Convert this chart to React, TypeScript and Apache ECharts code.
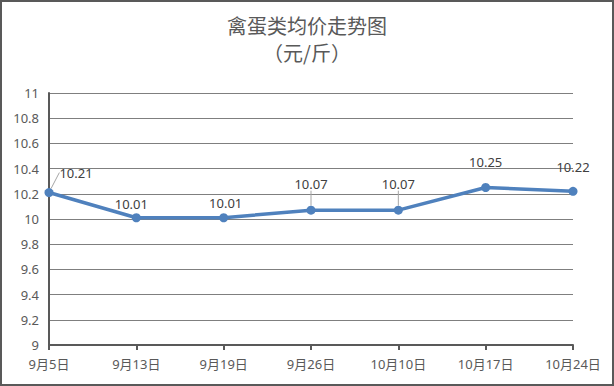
import React, { useEffect, useRef } from "react";
import * as echarts from "echarts";

const titleMain = "禽蛋类均价走势图";
const titleUnit = "（元/斤）";
const categories = ["9月5日", "9月13日", "9月19日", "9月26日", "10月10日", "10月17日", "10月24日"];
const prices = [10.21, 10.01, 10.01, 10.07, 10.07, 10.25, 10.22];
const labelShift: [number, number][] = [[27, -4], [-5, 2], [2, 1], [0, -10], [0, -10], [0, -10], [0, -8]];
const showLeader = [true, false, false, true, true, false, false];

export default function App() {
  const ref = useRef<HTMLDivElement>(null);
  useEffect(() => {
    if (!ref.current) return;
    const chart = echarts.init(ref.current, undefined, { renderer: "svg" });
    const font = '"Noto Sans", "Noto Sans CJK SC", sans-serif';
    const titleStyle = { fontSize: 20, fontWeight: "normal", color: "#595959", fontFamily: '"Noto Sans CJK SC", sans-serif' };
    chart.setOption({
      animation: false,
      backgroundColor: "#ffffff",
      title: [
        { text: titleMain, left: "center", top: 15, padding: 0, textStyle: titleStyle },
        { text: titleUnit, left: "center", top: 42, padding: 0, textStyle: titleStyle },
      ],
      graphic: [
        {
          type: "rect",
          shape: { x: 1, y: 1, width: 612, height: 384 },
          style: { fill: "none", stroke: "#595959", lineWidth: 2 },
          silent: true,
        },
      ],
      grid: { left: 49, right: 41, top: 93, bottom: 41 },
      xAxis: {
        type: "category",
        data: categories,
        boundaryGap: false,
        axisLine: { lineStyle: { color: "#595959", width: 2 } },
        axisTick: { show: true, length: 5, lineStyle: { color: "#595959", width: 2 } },
        axisLabel: { color: "#595959", fontSize: 13, fontFamily: font, margin: 12, interval: 0 },
      },
      yAxis: {
        type: "value",
        min: 9,
        max: 11,
        interval: 0.2,
        axisLine: { show: true, lineStyle: { color: "#595959", width: 2 } },
        axisTick: { show: false },
        axisLabel: { color: "#595959", fontSize: 13, fontFamily: font, margin: 10, formatter: (v: number) => String(Number(v.toFixed(1))) },
        splitLine: { lineStyle: { color: "#7f7f7f", width: 1 } },
      },
      series: [
        {
          type: "line",
          data: prices.map((v, i) => ({
            value: v,
            labelLine: { show: showLeader[i], lineStyle: { color: "#a6a6a6", width: 1 } },
          })),
          lineStyle: { color: "#4f81bd", width: 3.5 },
          itemStyle: { color: "#4f81bd" },
          symbol: "circle",
          symbolSize: 9,
          label: {
            show: true,
            position: "top",
            distance: 5,
            color: "#404040",
            fontSize: 13,
            fontFamily: font,
            formatter: (p: any) => p.value.toFixed(2),
          },
          labelLayout: (p: any) => ({ dx: labelShift[p.dataIndex][0], dy: labelShift[p.dataIndex][1] }),
        },
      ],
    });
    return () => chart.dispose();
  }, []);
  return <div ref={ref} style={{ position: "absolute", left: 0, top: 0, width: 614, height: 386 }} />;
}
